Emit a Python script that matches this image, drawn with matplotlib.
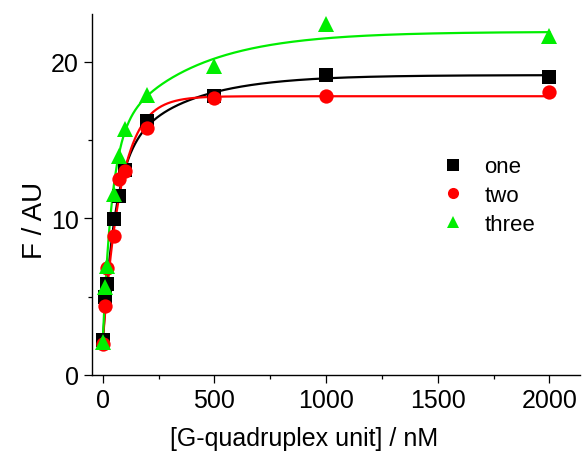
import numpy as np
import matplotlib
matplotlib.use("Agg")
import matplotlib.pyplot as plt
from matplotlib.ticker import MultipleLocator

plt.rcParams['font.family'] = ['Liberation Sans', 'DejaVu Sans']

# Data
conc = [0, 10, 20, 50, 75, 100, 200, 500, 1000, 2000]
one = [2.2, 5.0, 5.8, 9.95, 11.4, 13.1, 16.2, 17.8, 19.15, 19.04]
two = [2.0, 4.4, 6.8, 8.85, 12.5, 13.05, 15.8, 17.66, 17.79, 18.05]
three = [2.1, 5.6, 6.97, 11.55, 14.0, 15.7, 17.9, 19.75, 22.4, 21.64]

# Fit parameters (double / single exponential saturation)
fit_one = dict(fmax=19.15, a1=11.35, t1=55.0, a2=5.8, t2=300.0)
fit_two = dict(fmax=17.8, a1=15.8, t1=82.0, a2=0.0, t2=1.0)
fit_three = dict(fmax=21.92, a1=12.87, t1=40.0, a2=7.05, t2=354.0)


def model(x, fmax, a1, t1, a2, t2):
    return fmax - a1 * np.exp(-x / t1) - a2 * np.exp(-x / t2)


fig = plt.figure(figsize=(5.85, 4.56), dpi=100)
ax = fig.add_axes([0.1568, 0.1757, 0.991 - 0.1568, 0.967 - 0.1757])

xs = np.linspace(0, 2000, 2001)
series = [
    ("one", one, fit_one, "black", "s", 9.6),
    ("two", two, fit_two, "#ff0000", "o", 10.3),
    ("three", three, fit_three, "#00ee00", "^", 11.5),
]
for name, ys, fit, col, mk, ms in series:
    ax.plot(xs, model(xs, **fit), color=col, lw=1.6, zorder=2)
for name, ys, fit, col, mk, ms in series:
    ax.plot(conc, ys, linestyle="none", marker=mk, ms=ms, color=col,
            markeredgewidth=0, label=name, zorder=3)

ax.set_xlim(-49, 2136)
ax.set_ylim(0, 23.05)
ax.xaxis.set_major_locator(MultipleLocator(500))
ax.xaxis.set_minor_locator(MultipleLocator(250))
ax.yaxis.set_major_locator(MultipleLocator(10))
ax.yaxis.set_minor_locator(MultipleLocator(5))
for s in ["top", "right"]:
    ax.spines[s].set_visible(False)
for s in ["left", "bottom"]:
    ax.spines[s].set_linewidth(1.0)
ax.tick_params(which="major", direction="out", length=5.5, width=0.9,
               labelsize=18, pad=4)
ax.tick_params(which="minor", direction="out", length=3, width=0.9)

ax.set_xlabel("[G-quadruplex unit] / nM", fontsize=18)
ax.xaxis.set_label_coords(0.435, -0.142)
ax.set_ylabel("F / AU", fontsize=20)
ax.yaxis.set_label_coords(-0.09, 0.43)

leg = ax.legend(loc="upper left", bbox_to_anchor=(0.70, 0.63), frameon=False,
                fontsize=16, handlelength=1.0, handletextpad=0.9,
                labelspacing=0.35, borderaxespad=0)
for h in leg.legend_handles:
    h.set_markersize(8)

fig.savefig("out.png", dpi=100)
